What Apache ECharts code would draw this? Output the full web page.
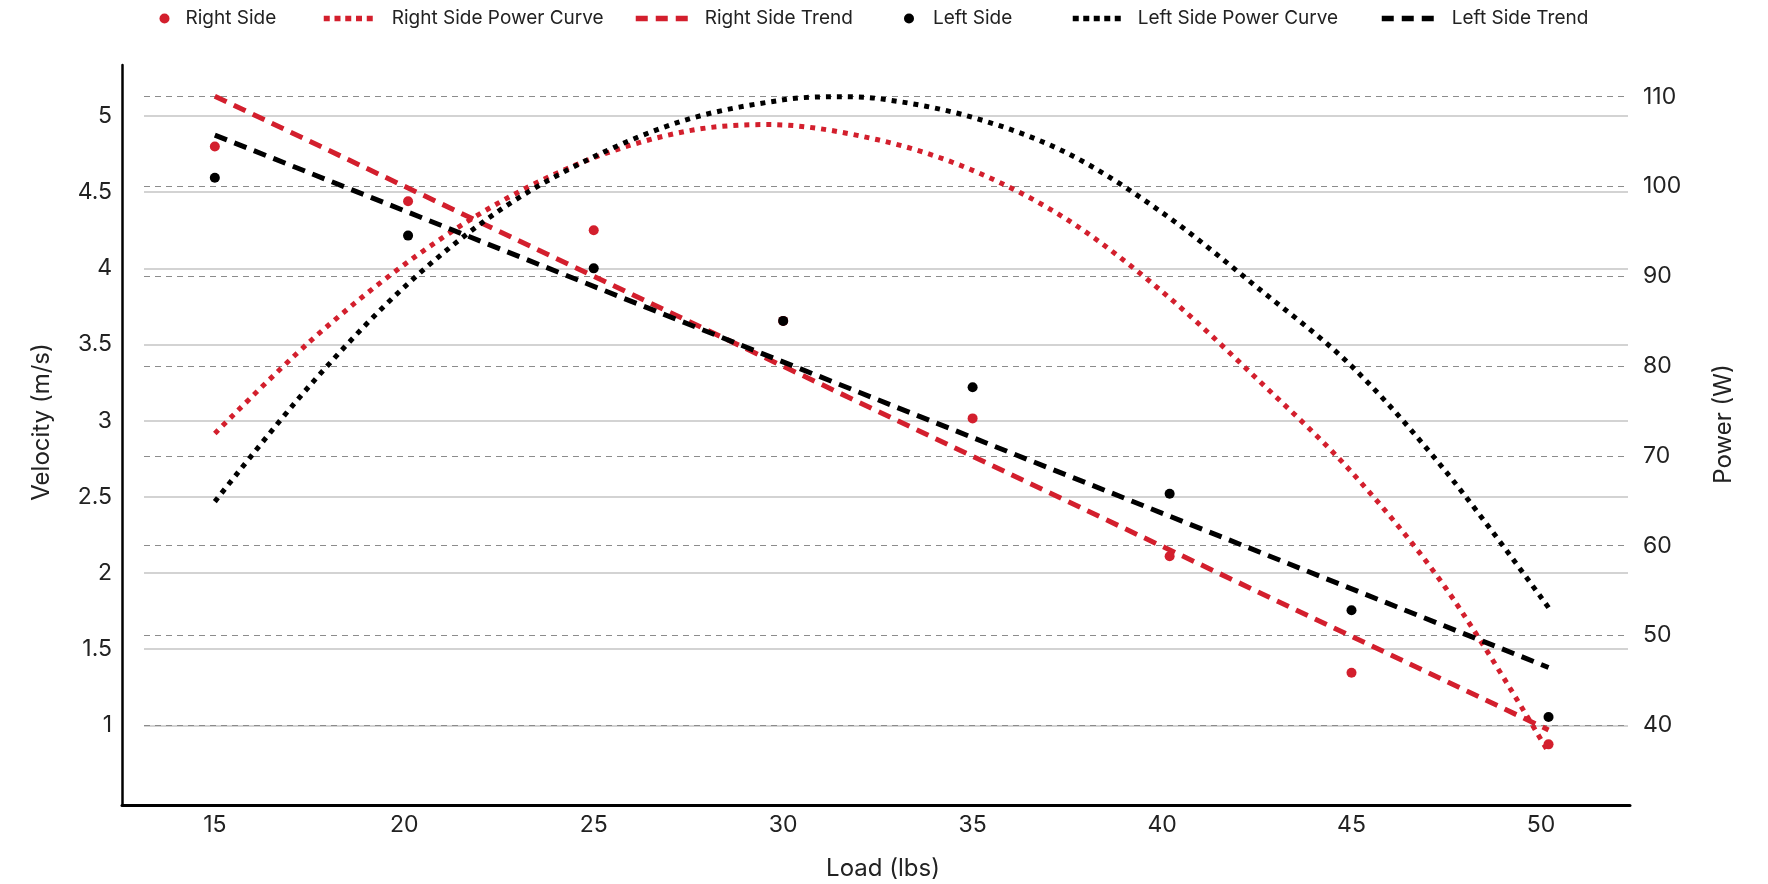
<!DOCTYPE html>
<html>
<head>
<meta charset="utf-8">
<script src="https://cdn.jsdelivr.net/npm/echarts@6/dist/echarts.min.js"></script>
<style>
html, body { margin: 0; padding: 0; background: #fff; }
#chart { width: 1768px; height: 884px; }
</style>
</head>
<body>
<div id="chart"></div>
<script>
// loads (lbs) as plotted
var rightLoads = [15, 20.1, 25, 30, 35, 40.2, 45, 50.2];
var rightVelocity = [4.80, 4.44, 4.25, 3.655, 3.015, 2.11, 1.345, 0.875];
var leftLoads = [15, 20.1, 25, 30, 35, 40.2, 45, 50.2];
var leftVelocity = [4.595, 4.215, 4.0, 3.655, 3.22, 2.52, 1.755, 1.055];

// power curves (W)
var rightPowerLoads = [15, 17.5, 20, 22.5, 25, 27.5, 29.6, 32.5, 35, 37.5, 40, 42.5, 45, 47.5, 50.2];
var rightPower = [72.5, 82.7, 91.3, 98.2, 103.2, 106.2, 106.9, 105.2, 101.8, 96.3, 88.3, 78.6, 68.2, 55.2, 37.0];
var leftPowerLoads = [15, 17.5, 20, 22.5, 25, 27.5, 30, 31.4, 32.5, 35, 37.5, 40, 42.5, 45, 47.5, 50.2];
var leftPower = [64.9, 77.8, 88.8, 97.3, 103.3, 107.5, 109.65, 110.0, 109.8, 107.7, 103.7, 97.1, 88.8, 80.0, 68.2, 53.1];

// trend lines (end points)
var trendLoads = [15, 50.2];
var rightTrend = [5.13, 0.97];
var leftTrend = [4.875, 1.38];

var velTicks = [1, 1.5, 2, 2.5, 3, 3.5, 4, 4.5, 5];
var powTicks = [40, 50, 60, 70, 80, 90, 100, 110];
var loadTicks = [15, 20, 25, 30, 35, 40, 45, 50];

var RED = '#d31f2d';
var BLACK = '#000000';
var FONT = 'Inter';
var DOTS = [5, 6];
var DASHES = [13, 8];

function pairs(xs, ys) {
	var out = [];
	for (var i = 0; i < xs.length; i++) out.push([xs[i], ys[i]]);
	return out;
}

var xMin = 12.55, xMax = 52.35;
var vMin = 0.477, vMax = 5.335;
var pMin = 31.12, pMax = 113.53;

var chart = echarts.init(document.getElementById('chart'));

// one legend per entry so each can sit where the original has it
function legendItem(name, left, w, pad, dash) {
	var lg = {
		data: [name], left: left, top: 9, padding: 0,
		itemWidth: w, itemHeight: 10,
		textStyle: { fontFamily: FONT, fontSize: 19, color: '#222', padding: [0, 0, 0, pad] },
		selectedMode: false
	};
	if (dash) {
		lg.itemStyle = { opacity: 0 };
		lg.lineStyle = { width: 5.5, type: dash, cap: 'butt' };
	}
	return lg;
}

function axisTitle(text, x, y, rot) {
	return {
		type: 'text', x: x, y: y, rotation: rot,
		style: { text: text, font: '24px Inter', fill: '#222', align: 'center', verticalAlign: 'middle' }
	};
}

var option = {
	animation: false,
	backgroundColor: '#fff',
	legend: [
		legendItem('Right Side', 159.5, 10, 11, null),
		legendItem('Right Side Power Curve', 321, 49, 14, [6, 4.75]),
		legendItem('Right Side Trend', 633, 52, 12, [12, 8]),
		legendItem('Left Side', 904, 10, 14, null),
		legendItem('Left Side Power Curve', 1070, 48, 12, [6, 4.5]),
		legendItem('Left Side Trend', 1379, 52, 13, [12, 8])
	],
	graphic: [
		axisTitle('Velocity (m/s)', 42, 422, Math.PI / 2),
		axisTitle('Power (W)', 1724, 424, Math.PI / 2),
		axisTitle('Load (lbs)', 883, 869, 0)
	],
	grid: [
		{ left: 122, right: 138, top: 65, bottom: 79 },
		{ left: 144, right: 140, top: 65, bottom: 79 }
	],
	xAxis: [
		{
			type: 'value', gridIndex: 0, min: xMin, max: xMax,
			axisLine: { show: true, lineStyle: { color: '#000', width: 3 } },
			axisTick: { show: false, customValues: loadTicks },
			axisLabel: { customValues: loadTicks, fontFamily: FONT, fontSize: 23, color: '#222', margin: 9 },
			splitLine: { show: false }
		},
		{
			type: 'value', gridIndex: 1, min: xMin, max: xMax, show: false
		}
	],
	yAxis: [
		{
			type: 'value', gridIndex: 0, min: vMin, max: vMax,
			axisLine: { show: true, lineStyle: { color: '#000', width: 2.5 } },
			axisTick: { show: false, customValues: velTicks },
			axisLabel: { customValues: velTicks, fontFamily: FONT, fontSize: 23, color: '#222', margin: 10 },
			splitLine: { show: false }
		},
		{
			type: 'value', gridIndex: 0, min: pMin, max: pMax, position: 'right',
			axisLine: { show: false },
			axisTick: { show: false, customValues: powTicks },
			axisLabel: { customValues: powTicks, fontFamily: FONT, fontSize: 23, color: '#222', margin: 13 },
			splitLine: { show: false }
		},
		{
			type: 'value', gridIndex: 1, min: vMin, max: vMax,
			axisLine: { show: false }, axisLabel: { show: false },
			axisTick: { show: false, customValues: velTicks },
			splitLine: { show: true, lineStyle: { color: '#c4c4c4', width: 1.5, type: 'solid' } }
		},
		{
			type: 'value', gridIndex: 1, min: pMin, max: pMax, position: 'right',
			axisLine: { show: false }, axisLabel: { show: false },
			axisTick: { show: false, customValues: powTicks },
			splitLine: { show: true, lineStyle: { color: '#8c8c8c', width: 1, type: [6, 5] } }
		}
	],
	series: [
		{
			name: 'Right Side', type: 'scatter', xAxisIndex: 0, yAxisIndex: 0,
			symbol: 'circle', symbolSize: 10, z: 5,
			itemStyle: { color: RED, opacity: 1 },
			data: pairs(rightLoads, rightVelocity)
		},
		{
			name: 'Right Side Power Curve', type: 'line', xAxisIndex: 0, yAxisIndex: 1,
			smooth: 0.33, symbol: 'none', z: 3,
			itemStyle: { color: RED },
			lineStyle: { color: RED, width: 5, type: DOTS, cap: 'butt' },
			data: pairs(rightPowerLoads, rightPower)
		},
		{
			name: 'Right Side Trend', type: 'line', xAxisIndex: 0, yAxisIndex: 0,
			symbol: 'none', z: 3,
			itemStyle: { color: RED },
			lineStyle: { color: RED, width: 5, type: DASHES, cap: 'butt' },
			data: pairs(trendLoads, rightTrend)
		},
		{
			name: 'Left Side', type: 'scatter', xAxisIndex: 0, yAxisIndex: 0,
			symbol: 'circle', symbolSize: 10, z: 5,
			itemStyle: { color: BLACK, opacity: 1 },
			data: pairs(leftLoads, leftVelocity)
		},
		{
			name: 'Left Side Power Curve', type: 'line', xAxisIndex: 0, yAxisIndex: 1,
			smooth: 0.33, symbol: 'none', z: 3,
			itemStyle: { color: BLACK },
			lineStyle: { color: BLACK, width: 5, type: DOTS, cap: 'butt' },
			data: pairs(leftPowerLoads, leftPower)
		},
		{
			name: 'Left Side Trend', type: 'line', xAxisIndex: 0, yAxisIndex: 0,
			symbol: 'none', z: 3,
			itemStyle: { color: BLACK },
			lineStyle: { color: BLACK, width: 5, type: DASHES, cap: 'butt' },
			data: pairs(trendLoads, leftTrend)
		}
	]
};

chart.setOption(option);
</script>
</body>
</html>
